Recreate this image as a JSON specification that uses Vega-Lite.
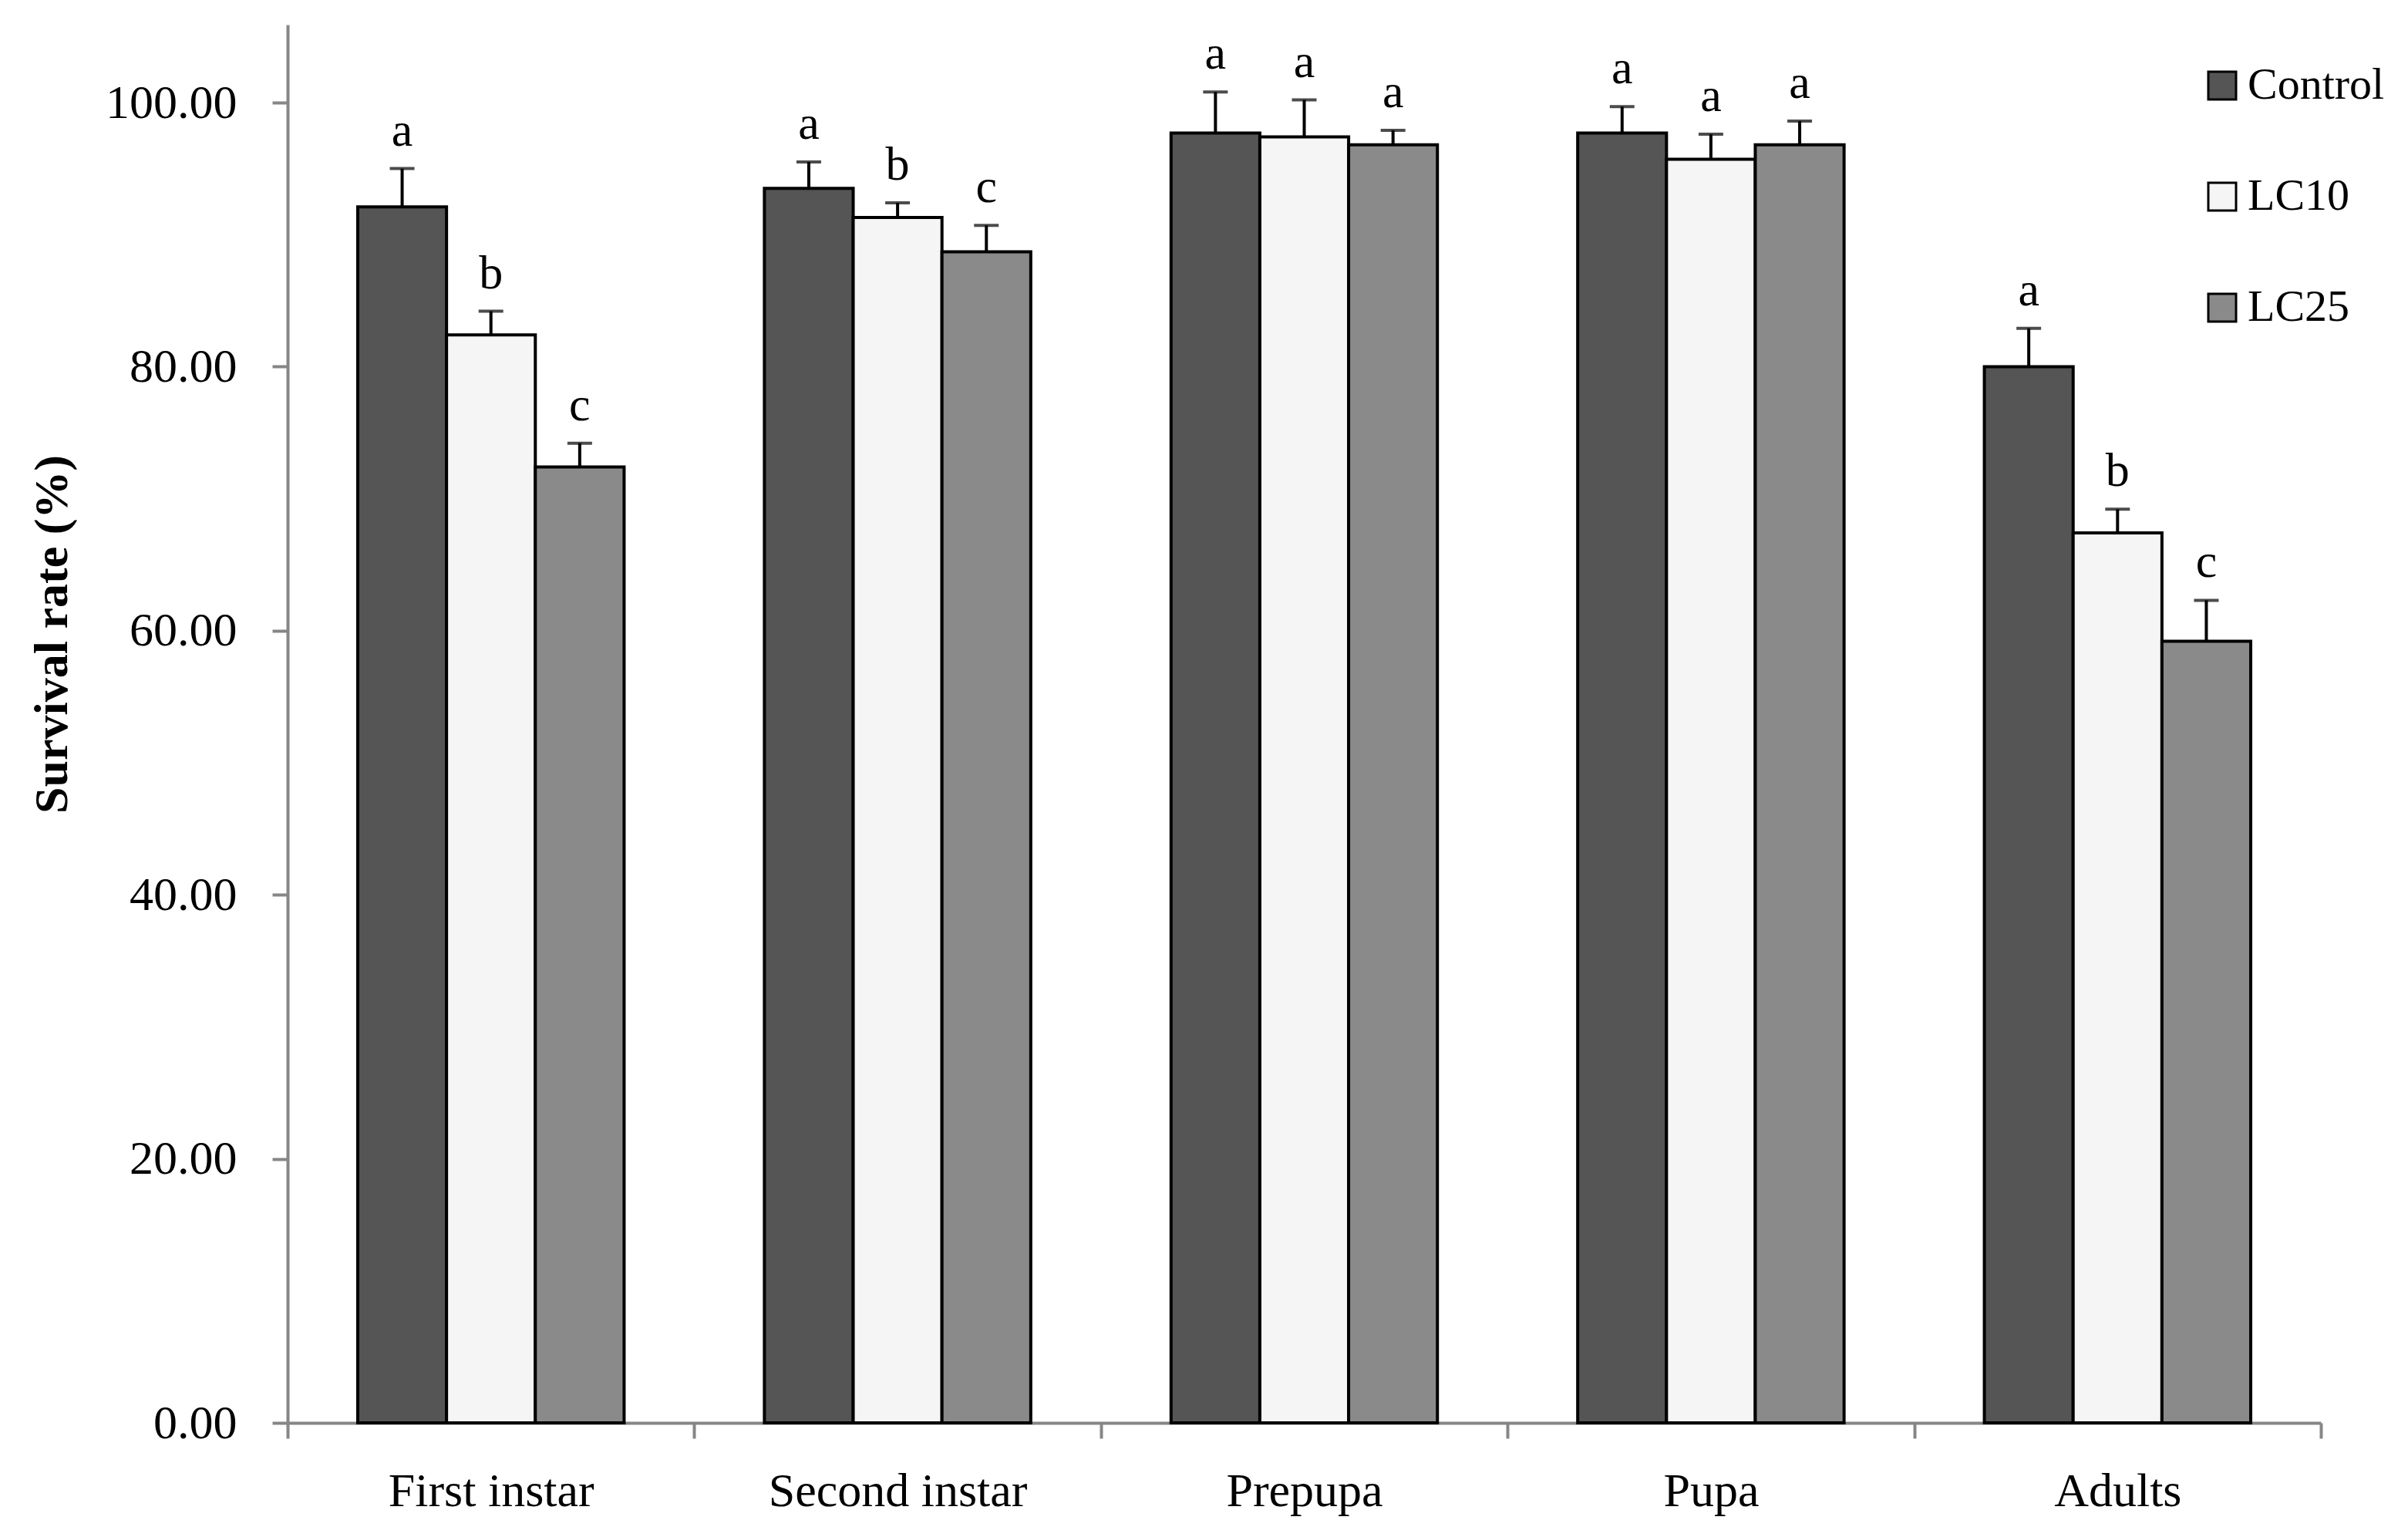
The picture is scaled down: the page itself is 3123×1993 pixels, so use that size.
{
  "$schema": "https://vega.github.io/schema/vega-lite/v6.json",
  "autosize": {"type": "none"},
  "width": 2637,
  "height": 1813,
  "padding": {"left": 373, "top": 32, "right": 113, "bottom": 148},
  "background": "white",
  "config": {
    "view": {"stroke": null},
    "font": "Liberation Serif",
    "axis": {"labelFont": "Liberation Serif", "titleFont": "Liberation Serif", "labelColor": "black", "titleColor": "black", "grid": false},
    "legend": {"labelFont": "Liberation Serif"}
  },
  "data": {
    "values": [
      {"stage": "First instar", "treatment": "Control", "mean": 92.1, "upper": 95.0, "letter": "a"},
      {"stage": "First instar", "treatment": "LC10", "mean": 82.4, "upper": 84.2, "letter": "b"},
      {"stage": "First instar", "treatment": "LC25", "mean": 72.4, "upper": 74.2, "letter": "c"},
      {"stage": "Second instar", "treatment": "Control", "mean": 93.5, "upper": 95.5, "letter": "a"},
      {"stage": "Second instar", "treatment": "LC10", "mean": 91.3, "upper": 92.4, "letter": "b"},
      {"stage": "Second instar", "treatment": "LC25", "mean": 88.7, "upper": 90.7, "letter": "c"},
      {"stage": "Prepupa", "treatment": "Control", "mean": 97.7, "upper": 100.8, "letter": "a"},
      {"stage": "Prepupa", "treatment": "LC10", "mean": 97.4, "upper": 100.2, "letter": "a"},
      {"stage": "Prepupa", "treatment": "LC25", "mean": 96.8, "upper": 97.9, "letter": "a"},
      {"stage": "Pupa", "treatment": "Control", "mean": 97.7, "upper": 99.7, "letter": "a"},
      {"stage": "Pupa", "treatment": "LC10", "mean": 95.7, "upper": 97.6, "letter": "a"},
      {"stage": "Pupa", "treatment": "LC25", "mean": 96.8, "upper": 98.6, "letter": "a"},
      {"stage": "Adults", "treatment": "Control", "mean": 80.0, "upper": 82.9, "letter": "a"},
      {"stage": "Adults", "treatment": "LC10", "mean": 67.4, "upper": 69.2, "letter": "b"},
      {"stage": "Adults", "treatment": "LC25", "mean": 59.2, "upper": 62.3, "letter": "c"}
    ]
  },
  "encoding": {
    "x": {
      "field": "stage", "type": "nominal",
      "sort": ["First instar", "Second instar", "Prepupa", "Pupa", "Adults"],
      "scale": {"paddingInner": 0, "paddingOuter": 0},
      "axis": {
        "title": null, "labelAngle": 0, "labelFontSize": 62, "labelPadding": 38, "labelLimit": 0,
        "tickBand": "extent", "tickSize": 20, "tickWidth": 4, "tickColor": "#868686",
        "domainColor": "#868686", "domainWidth": 4
      }
    },
    "xOffset": {
      "field": "treatment", "type": "nominal",
      "sort": ["Control", "LC10", "LC25"],
      "scale": {"paddingInner": 0, "paddingOuter": 0.79}
    }
  },
  "layer": [
    {
      "mark": {"type": "bar", "stroke": "black", "strokeWidth": 4},
      "encoding": {
        "y": {
          "field": "mean", "type": "quantitative",
          "scale": {"domain": [0, 105.9], "nice": false},
          "axis": {
            "title": "Survival rate (%)", "titleFontSize": 62, "titleFontWeight": "bold",
            "titleX": -287, "titleY": 790, "titleAngle": -90, "titleBaseline": "alphabetic", "titleAlign": "center",
            "values": [0, 20, 40, 60, 80, 100], "format": ".2f",
            "labelFontSize": 62, "labelPadding": 46,
            "tickSize": 20, "tickWidth": 4, "tickColor": "#868686",
            "domainColor": "#868686", "domainWidth": 4
          }
        },
        "fill": {
          "field": "treatment", "type": "nominal",
          "sort": ["Control", "LC10", "LC25"],
          "scale": {"domain": ["Control", "LC10", "LC25"], "range": ["#555555", "#f5f5f5", "#8a8a8a"]},
          "legend": {
            "title": null, "orient": "none", "legendX": 2480, "legendY": 50,
            "symbolType": "square", "symbolSize": 1296, "symbolStrokeColor": "black", "symbolStrokeWidth": 3,
            "labelFontSize": 58, "labelColor": "black", "labelOffset": 4, "labelLimit": 0, "rowPadding": 86
          }
        }
      }
    },
    {
      "mark": {"type": "rule", "color": "black", "strokeWidth": 4},
      "encoding": {
        "y": {"field": "mean", "type": "quantitative"},
        "y2": {"field": "upper"}
      }
    },
    {
      "mark": {"type": "tick", "orient": "horizontal", "color": "black", "size": 32, "thickness": 4},
      "encoding": {
        "y": {"field": "upper", "type": "quantitative"}
      }
    },
    {
      "mark": {"type": "text", "baseline": "alphabetic", "dy": -30, "fontSize": 62, "color": "black", "font": "Liberation Serif"},
      "encoding": {
        "y": {"field": "upper", "type": "quantitative"},
        "text": {"field": "letter"}
      }
    }
  ]
}
